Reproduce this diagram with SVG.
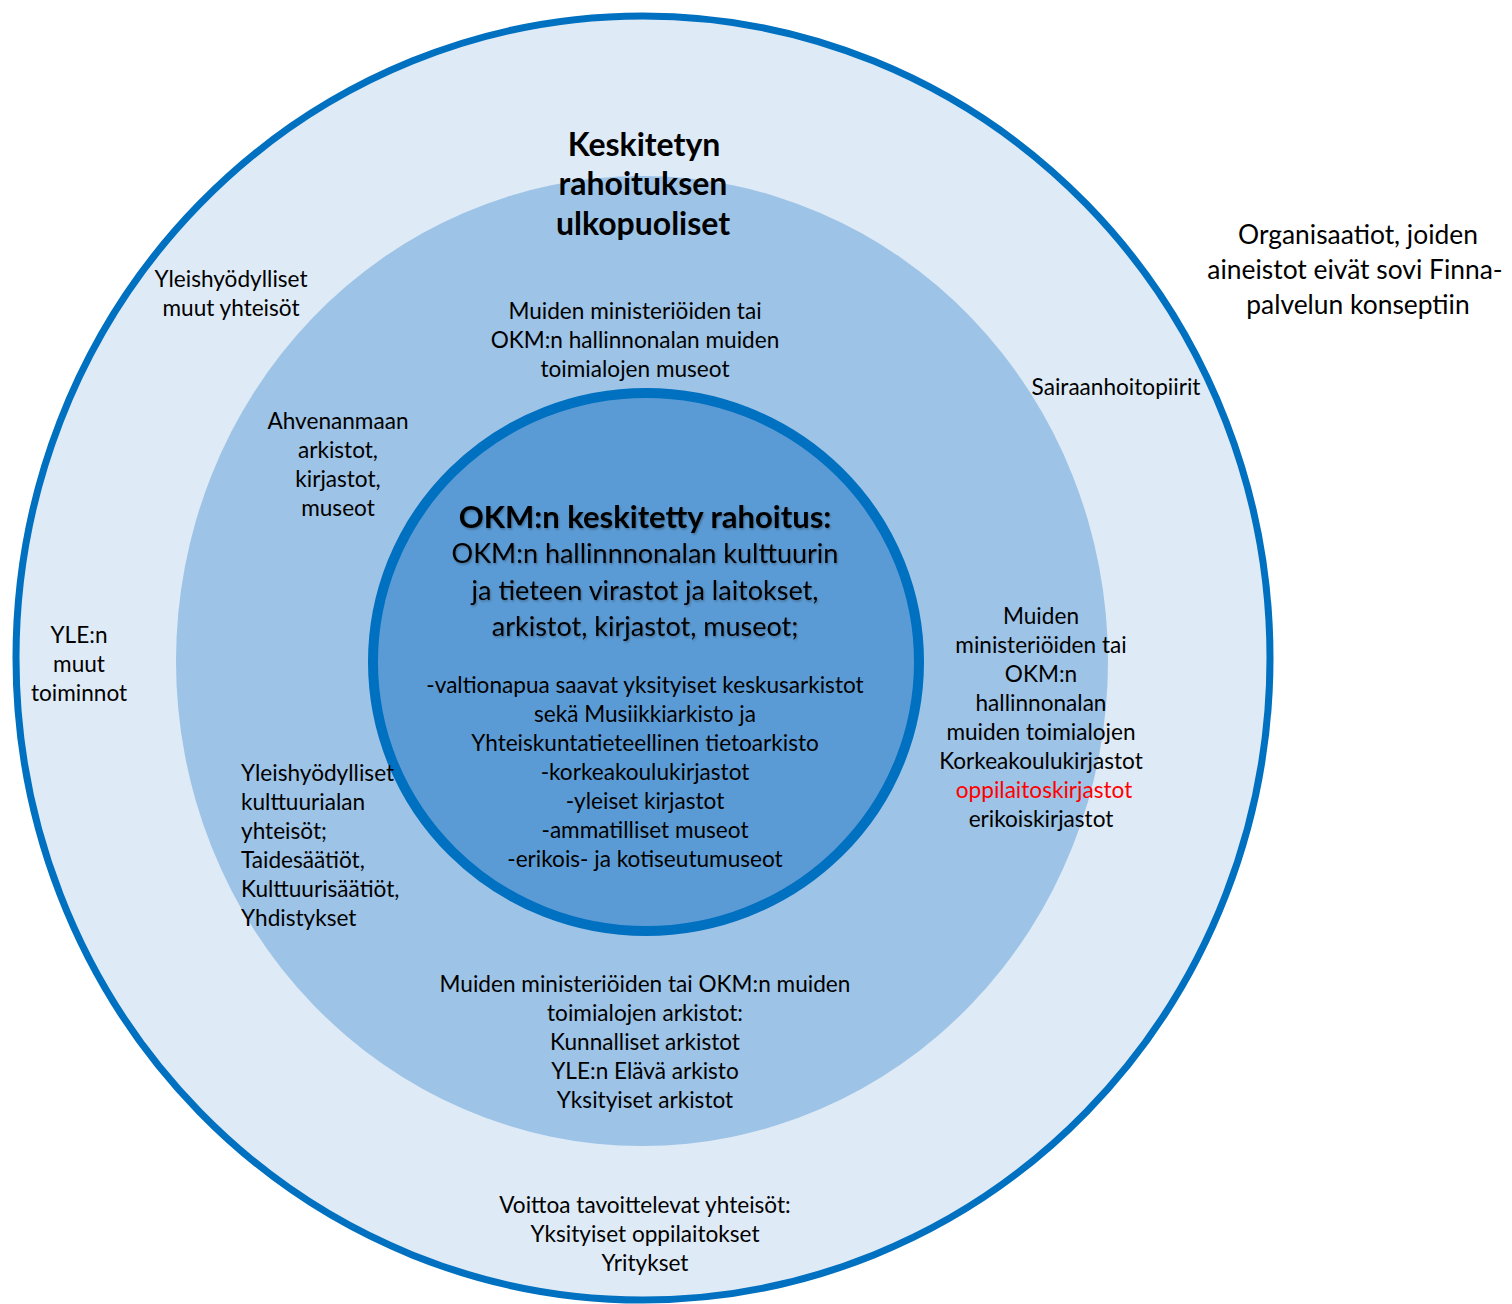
<svg xmlns="http://www.w3.org/2000/svg" width="1512" height="1304" viewBox="0 0 1512 1304">
<style>
text{font-family:Lato,"Open Sans","Liberation Sans",sans-serif;fill:#000;text-anchor:middle}
.b{font-size:22.6px}
.h{font-size:27px}
.hb{font-size:31px;font-weight:bold}
.t{font-size:32px;font-weight:bold}
.r{font-size:26.4px}
.l{text-anchor:start}
.red{fill:#FF0000}
.sh{filter:url(#ts)}
</style>
<defs>
<filter id="ts" x="-5%" y="-20%" width="110%" height="140%">
<feDropShadow dx="1" dy="1.5" stdDeviation="1" flood-color="#000" flood-opacity="0.3"/>
</filter>
</defs>
<rect width="1512" height="1304" fill="#fff"/>
<g id="outer-ring">
<ellipse cx="643" cy="658" rx="627" ry="642" fill="#DEEAF6" stroke="#0070C0" stroke-width="7"/>
</g>
<g id="middle-ring">
<ellipse cx="642" cy="661" rx="466" ry="485" fill="#9DC3E6"/>
</g>
<g id="inner-circle">
<ellipse cx="646" cy="662" rx="273" ry="269" fill="#5B9BD5" stroke="#0070C0" stroke-width="10"/>
</g>
<g id="connectors"></g>
<g id="title">
<text class="t" x="644" y="156">Keskitetyn</text>
<text class="t" x="643" y="195">rahoituksen</text>
<text class="t" x="643" y="235">ulkopuoliset</text>
</g>
<g id="yleishyodylliset-muut">
<text class="b" x="231" y="287">Yleishyödylliset</text>
<text class="b" x="231" y="316">muut yhteisöt</text>
</g>
<g id="muiden-museot">
<text class="b" x="635" y="319">Muiden ministeriöiden tai</text>
<text class="b" x="635" y="348">OKM:n hallinnonalan muiden</text>
<text class="b" x="635" y="377">toimialojen museot</text>
</g>
<g id="organisaatiot">
<text class="r" x="1358" y="244">Organisaatiot, joiden</text>
<text class="r" x="1355" y="279">aineistot eivät sovi Finna-</text>
<text class="r" x="1358" y="314">palvelun konseptiin</text>
</g>
<g id="sairaanhoitopiirit">
<text class="b" x="1116" y="395">Sairaanhoitopiirit</text>
</g>
<g id="ahvenanmaa">
<text class="b" x="338" y="429">Ahvenanmaan</text>
<text class="b" x="338" y="458">arkistot,</text>
<text class="b" x="338" y="487">kirjastot,</text>
<text class="b" x="338" y="516">museot</text>
</g>
<g id="okm-keskitetty">
<text class="hb sh" x="645" y="528">OKM:n keskitetty rahoitus:</text>
<text class="h sh" x="645" y="563">OKM:n hallinnnonalan kulttuurin</text>
<text class="h sh" x="645" y="600">ja tieteen virastot ja laitokset,</text>
<text class="h sh" x="645" y="636">arkistot, kirjastot, museot;</text>
<text class="b" x="645" y="693">-valtionapua saavat yksityiset keskusarkistot</text>
<text class="b" x="645" y="722">sekä Musiikkiarkisto ja</text>
<text class="b" x="645" y="751">Yhteiskuntatieteellinen tietoarkisto</text>
<text class="b" x="645" y="780">-korkeakoulukirjastot</text>
<text class="b" x="645" y="809">-yleiset kirjastot</text>
<text class="b" x="645" y="838">-ammatilliset museot</text>
<text class="b" x="645" y="867">-erikois- ja kotiseutumuseot</text>
</g>
<g id="yle-muut">
<text class="b" x="79" y="643">YLE:n</text>
<text class="b" x="79" y="672">muut</text>
<text class="b" x="79" y="701">toiminnot</text>
</g>
<g id="muiden-kirjastot">
<text class="b" x="1041" y="624">Muiden</text>
<text class="b" x="1041" y="653">ministeriöiden tai</text>
<text class="b" x="1041" y="682">OKM:n</text>
<text class="b" x="1041" y="711">hallinnonalan</text>
<text class="b" x="1041" y="740">muiden toimialojen</text>
<text class="b" x="1041" y="769">Korkeakoulukirjastot</text>
<text class="b red" x="1044" y="798">oppilaitoskirjastot</text>
<text class="b" x="1041" y="827">erikoiskirjastot</text>
</g>
<g id="yleishyodylliset-kulttuuri">
<text class="b l" x="241" y="781">Yleishyödylliset</text>
<text class="b l" x="241" y="810">kulttuurialan</text>
<text class="b l" x="241" y="839">yhteisöt;</text>
<text class="b l" x="241" y="868">Taidesäätiöt,</text>
<text class="b l" x="241" y="897">Kulttuurisäätiöt,</text>
<text class="b l" x="241" y="926">Yhdistykset</text>
</g>
<g id="muiden-arkistot">
<text class="b" x="645" y="992">Muiden ministeriöiden tai OKM:n muiden</text>
<text class="b" x="645" y="1021">toimialojen arkistot:</text>
<text class="b" x="645" y="1050">Kunnalliset arkistot</text>
<text class="b" x="645" y="1079">YLE:n Elävä arkisto</text>
<text class="b" x="645" y="1108">Yksityiset arkistot</text>
</g>
<g id="voittoa">
<text class="b" x="645" y="1213">Voittoa tavoittelevat yhteisöt:</text>
<text class="b" x="645" y="1242">Yksityiset oppilaitokset</text>
<text class="b" x="645" y="1271">Yritykset</text>
</g>
</svg>
